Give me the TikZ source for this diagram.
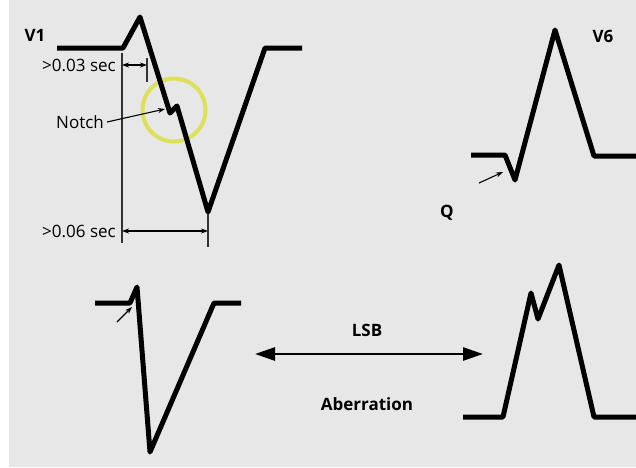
\documentclass[tikz,border=0pt]{standalone}
\usepackage{fontspec}
\setmainfont{Open Sans}
\usetikzlibrary{arrows.meta,positioning}
\definecolor{panel}{RGB}{231,231,231}
\definecolor{ringyellow}{RGB}{222,224,88}

\begin{document}
\begin{tikzpicture}[
  x=1pt,y=-1pt,
  wave/.style={line width=5pt,line join=round},
  thinln/.style={line width=1.1pt,black!80},
  dimarr/.style={line width=1.1pt,{Stealth[length=7pt,width=5pt]}-{Stealth[length=7pt,width=5pt]}},
  ptr/.style={line width=1.1pt,-{Stealth[length=7pt,width=5pt]}},
  bigarr/.style={line width=2.7pt,{Triangle[length=20pt,width=13pt]}-{Triangle[length=20pt,width=13pt]}},
  lbl/.style={inner sep=0pt,font=\fontsize{17}{20}\selectfont},
  bold/.style={inner sep=0pt,font=\fontsize{17}{20}\selectfont\bfseries}
]
\useasboundingbox (0,0) rectangle (636,467);
\fill[panel] (9,0) rectangle (636,467);
% notch ring under the trace
\draw[ringyellow,line width=4pt] (174,110) circle[radius=31.5];
% traces
\draw[wave] (57,48) -- (123,48) -- (140,17) -- (170,113) -- (177,106) -- (208,212) -- (265,48) -- (302,48);
\draw[wave] (471,155) -- (505,155) -- (515,180) -- (555,30) -- (594,156) -- (636,156);
\draw[wave] (95,303) -- (130,303) -- (137,287) -- (150,452) -- (214,303) -- (241,303);
\draw[wave] (463,417) -- (503,417) -- (531,293) -- (538,319) -- (559,265) -- (594,417) -- (636,417);
% labels
\node[bold] (v1) at (35,35) {V1};
\node[bold] (v6) at (603,36) {V6};
\node[bold] (q) at (447,213) {Q};
\node[bold] (lsb) at (367,330) {LSB};
\node[bold] (aberr) at (367,404) {Aberration};
\node[lbl,anchor=east] (short) at (116,65) {>0.03 sec};
\node[lbl,anchor=east] (long) at (116,231) {>0.06 sec};
\node[lbl,inner xsep=3pt,anchor=east] (notch) at (107,122) {Notch};
% measuring marks
\coordinate (reftop) at (122,53);
\coordinate (refbot) at (122,243);
\coordinate (tickatop) at (147,58);
\coordinate (tickabot) at (147,82);
\coordinate (tickbtop) at (208,214);
\coordinate (tickbbot) at (208,247);
\coordinate (notchtip) at (165,109);
\coordinate (qtail) at (479,183);
\coordinate (qtip) at (503,172);
\coordinate (rtail) at (117,322);
\coordinate (rtip) at (132,307);
\coordinate (lsbl) at (255,354);
\coordinate (lsbr) at (483,354);
\draw[thinln] (reftop) -- (refbot);
\draw[thinln] (tickatop) -- (tickabot);
\draw[thinln] (tickbtop) -- (tickbbot);
\draw[dimarr] (reftop |- short.east) -- (tickatop |- short.east);
\draw[dimarr] (refbot |- long.east) -- (tickbtop |- long.east);
\draw[ptr] (notch.east) -- (notchtip);
\draw[ptr] (qtail) -- (qtip);
\draw[ptr] (rtail) -- (rtip);
\draw[bigarr] (lsbl) -- (lsbr);
\end{tikzpicture}
\end{document}
